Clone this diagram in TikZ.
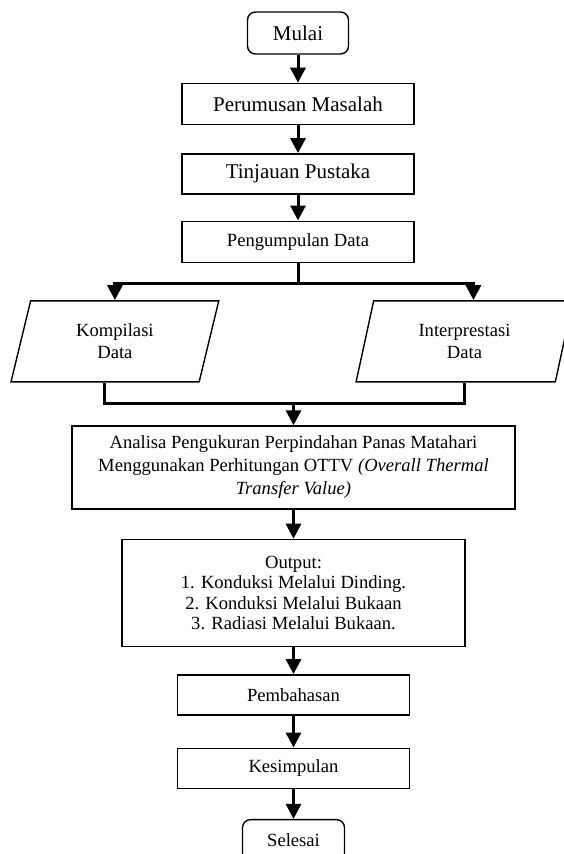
\documentclass[tikz,border=0pt]{standalone}
\usepackage{fontspec}
\setmainfont{Liberation Serif}
\usepackage{tikz}
\usetikzlibrary{positioning,arrows.meta,shapes.geometric}
\tikzset{
  >={Triangle[width=15pt,length=15pt]},
  proses/.style={draw, rectangle, line width=1.4pt, minimum width=232pt, minimum height=40pt, inner sep=1pt, align=center, font=\hurufkecil},
  terminal/.style={draw, rectangle, rounded corners=8pt, line width=1.4pt, minimum width=101pt, minimum height=42pt, inner sep=1pt, font=\hurufkecil},
  datanya/.style={draw, trapezium, trapezium left angle=76, trapezium right angle=104, trapezium stretches=true, line width=1.4pt, minimum height=81pt, inner sep=1pt, align=center, font=\hurufkecil},
  alur/.style={->, line width=3pt},
  garis/.style={line width=3pt},
}
\newcommand{\hurufbesar}{\fontsize{21}{24}\selectfont}
\newcommand{\hurufkecil}{\fontsize{18.6}{22}\selectfont}

\begin{document}
\begin{tikzpicture}[x=1pt, y=-1pt]
    \useasboundingbox (0,0) rectangle (563,854);
    \node[terminal, font=\hurufbesar] (mulai) at (298,33) {Mulai};
    \node[proses, minimum height=41pt, font=\hurufbesar] (rumus) [below=28pt of mulai] {Perumusan Masalah};
    \node[proses, font=\hurufbesar] (tinjau) [below=28pt of rumus] {Tinjauan Pustaka};
    \node[proses, minimum height=41pt] (kumpul) [below=26pt of tinjau] {Pengumpulan Data};
    \coordinate[below=21pt of kumpul] (cabang);
    \node[datanya, minimum width=208pt] (kompil) at (114.9,341.3) {Kompilasi\\Data};
    \node[datanya, minimum width=217pt] (interp) at (464.5,341.3) {Interprestasi\\Data};
    \coordinate (gabung) at (293.5,403);
    \node[proses, minimum width=443pt, minimum height=83pt, font=\fontsize{18.6}{23}\selectfont] (analisa) at (293.5,467.5)
      {Analisa Pengukuran Perpindahan Panas Matahari\\Menggunakan Perhitungan OTTV \textit{(Overall Thermal}\\\textit{Transfer Value)}};
    \node[proses, minimum width=343pt, minimum height=107pt, font=\fontsize{18.6}{20.2}\selectfont] (output) [below=29pt of analisa]
      {Output:\\1. Konduksi Melalui Dinding.\\2. Konduksi Melalui Bukaan\\3. Radiasi Melalui Bukaan.};
    \node[proses] (bahas) [below=27pt of output] {Pembahasan};
    \node[proses] (simpul) [below=32pt of bahas] {Kesimpulan};
    \node[terminal, minimum width=102pt] (selesai) [below=30pt of simpul] {Selesai};
    \path[alur]
      (mulai) edge (rumus)
      (rumus) edge (tinjau)
      (tinjau) edge (kumpul)
      (gabung) edge (analisa)
      (analisa) edge (output)
      (output) edge (bahas)
      (bahas) edge (simpul)
      (simpul) edge (selesai);
    \draw[garis] (kumpul) -- (cabang);
    \draw[alur] (cabang) -| (kompil.north);
    \draw[alur] (cabang) -| (interp.top side);
    \draw[garis] (kompil.bottom side) |- (gabung) -| (interp.south);
  \end{tikzpicture}
\end{document}
